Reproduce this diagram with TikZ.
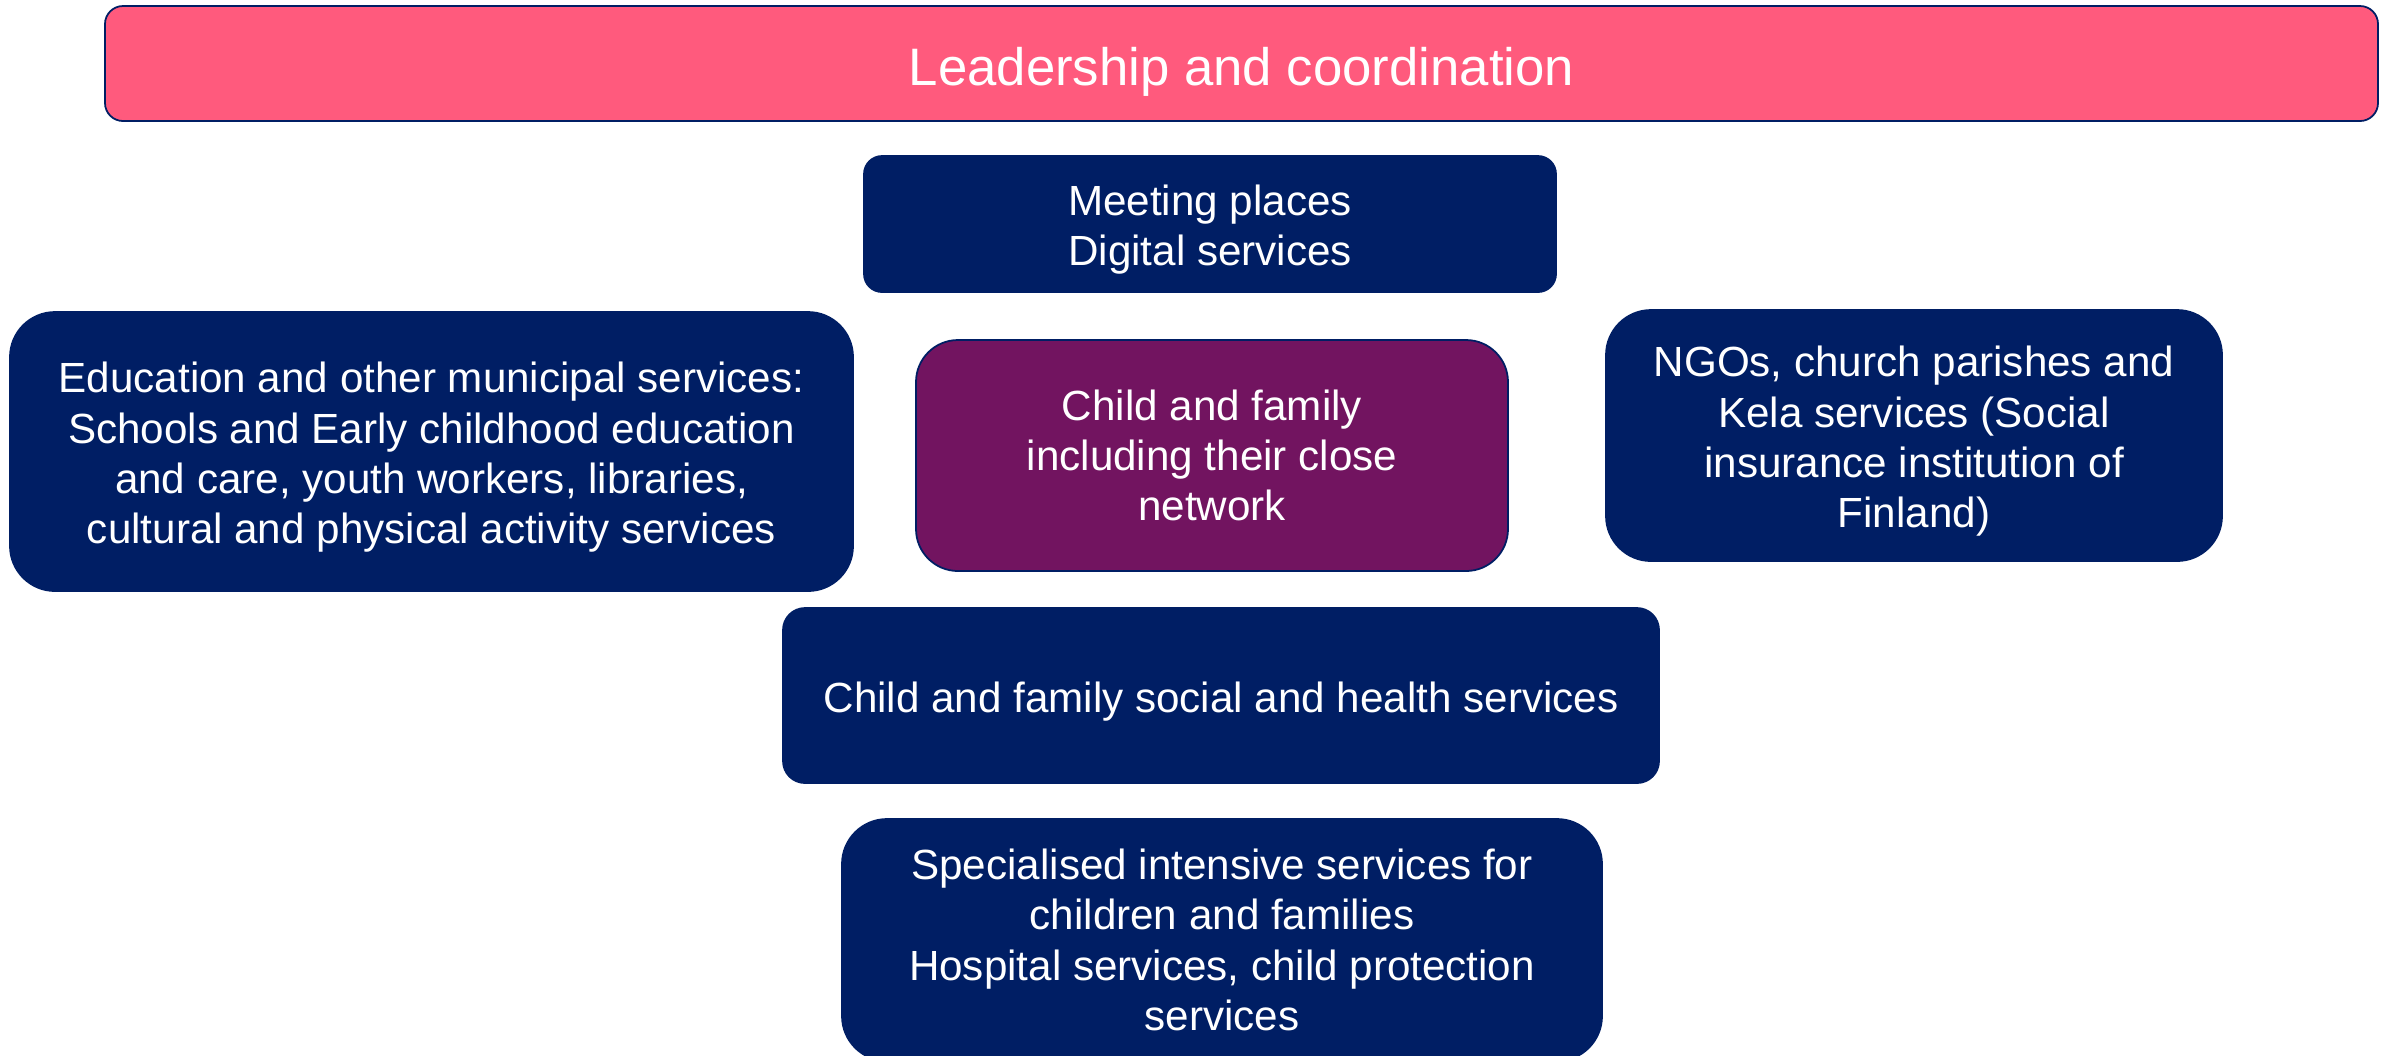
\documentclass[tikz,border=0pt]{standalone}
\usepackage{fontspec}
\setmainfont{Liberation Sans}
\usepackage{xcolor}
\usepackage{tikz}
\usetikzlibrary{positioning}
\definecolor{servnavy}{RGB}{0,30,100}
\definecolor{leadpink}{RGB}{255,90,125}
\definecolor{familypurple}{RGB}{114,20,96}

\begin{document}
\begin{tikzpicture}[
  svc/.style={rectangle, draw=servnavy, line width=0.5pt, fill=servnavy,
              text=white, align=center,
              font=\fontsize{12}{14.3}\selectfont, inner sep=0pt,
              extralines=0},
  % strut so the text sits a little low, as in the slide
  extralines/.style={execute at begin node={\rule{0pt}{\dimexpr 12pt+14.3pt*#1\relax}}},
  lead/.style={svc, fill=leadpink, rounded corners=0.18cm,
               font=\fontsize{15}{18}\selectfont,
               execute at begin node={\rule{0pt}{15.5pt}}},
  fam/.style={svc, fill=familypurple}
]
\useasboundingbox (0,0) rectangle (23.87,-10.55);
\node[lead, minimum width=22.73cm, minimum height=1.15cm] (L) at (12.415,-0.635)
  {Leadership and coordination};
\node[svc, extralines=1, rounded corners=0.18cm, minimum width=6.92cm, minimum height=1.36cm]
  (M) at (12.10,-2.24) {Meeting places\\Digital services};
\node[svc, extralines=3, rounded corners=0.45cm, minimum width=8.43cm, minimum height=2.79cm]
  (E) at (4.315,-4.515) {Education and other municipal services:\\Schools and Early childhood education\\and care, youth workers, libraries,\\cultural and physical activity services};
\node[fam, rounded corners=0.42cm, minimum width=5.92cm, minimum height=2.31cm]
  (C) at (12.12,-4.555) {Child and family\\including their close\\network};
\node[svc, extralines=3, rounded corners=0.45cm, minimum width=6.16cm, minimum height=2.51cm]
  (N) at (19.14,-4.355) {NGOs, church parishes and\\Kela services (Social\\insurance institution of\\Finland)};
\node[svc, rounded corners=0.22cm, minimum width=8.76cm, minimum height=1.75cm]
  (S) at (12.21,-6.955) {Child and family social and health services};
\node[svc, rounded corners=0.45cm, minimum width=7.60cm, minimum height=2.42cm]
  (P) at (12.22,-9.40) {Specialised intensive services for\\children and families\\Hospital services, child protection\\services};
\end{tikzpicture}
\end{document}
